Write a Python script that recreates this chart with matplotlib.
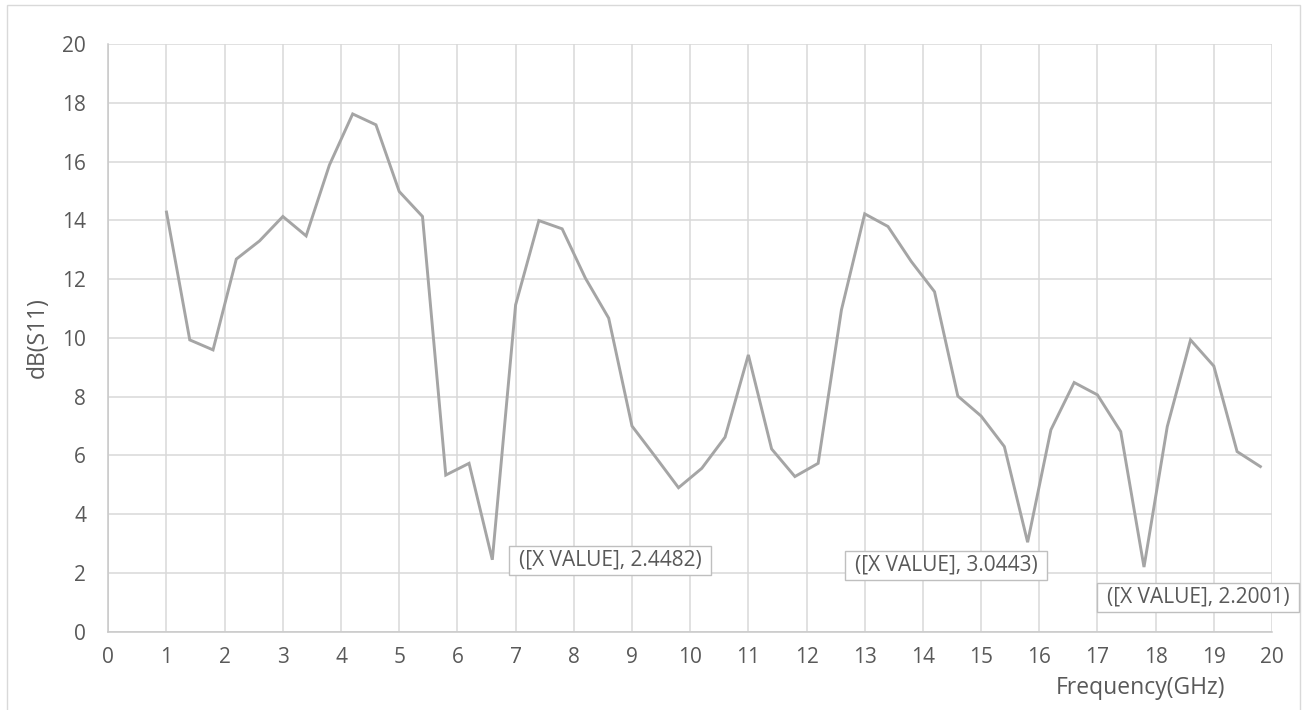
import matplotlib
matplotlib.use("Agg")
import matplotlib.pyplot as plt
from matplotlib.patches import Rectangle
from matplotlib.transforms import IdentityTransform

# Return loss sweep, 1 - 19.8 GHz in 0.4 GHz steps
freq_ghz = [1.0, 1.4, 1.8, 2.2, 2.6, 3.0, 3.4, 3.8, 4.2, 4.6,
            5.0, 5.4, 5.8, 6.2, 6.6, 7.0, 7.4, 7.8, 8.2, 8.6,
            9.0, 9.4, 9.8, 10.2, 10.6, 11.0, 11.4, 11.8, 12.2, 12.6,
            13.0, 13.4, 13.8, 14.2, 14.6, 15.0, 15.4, 15.8, 16.2, 16.6,
            17.0, 17.4, 17.8, 18.2, 18.6, 19.0, 19.4, 19.8]
db_s11 = [14.28, 9.93, 9.59, 12.68, 13.30, 14.13, 13.47, 15.88, 17.62, 17.25,
          14.98, 14.13, 5.33, 5.73, 2.4482, 11.12, 13.99, 13.71, 12.03, 10.67,
          7.00, 5.96, 4.90, 5.56, 6.62, 9.42, 6.22, 5.28, 5.73, 10.95,
          14.22, 13.79, 12.60, 11.57, 8.02, 7.34, 6.30, 3.0443, 6.87, 8.48,
          8.06, 6.81, 2.2001, 6.98, 9.93, 9.04, 6.13, 5.62]

# Minima that get a callout
callout_idx = [14, 37, 42]

x_ticks = list(range(0, 21))
y_ticks = list(range(0, 21, 2))

W, H = 1305, 710
text_color = "#595959"
grid_color = "#D9D9D9"
line_color = "#A5A5A5"
font = ["Open Sans", "DejaVu Sans"]

fig = plt.figure(figsize=(W / 100, H / 100), dpi=100)
ax = fig.add_axes([108.3 / W, 1 - 631.7 / H, (1272 - 108.3) / W, (631.7 - 44) / H])

# Outer chart border
fig.patches.append(Rectangle((7 / W, -0.01), (1300 - 7) / W, 1 - 5 / H + 0.01,
                             transform=fig.transFigure, fill=False,
                             edgecolor="#D9D9D9", linewidth=1.0))

ax.plot(freq_ghz, db_s11, color=line_color, linewidth=2.1, solid_joinstyle="miter", zorder=3)

ax.set_xlim(0, 20)
ax.set_ylim(0, 20)
ax.set_xticks(x_ticks)
ax.set_yticks(y_ticks)
ax.grid(True, color=grid_color, linewidth=1.1)
ax.set_axisbelow(True)
for side in ["top", "right"]:
    ax.spines[side].set_visible(False)
for side in ["left", "bottom"]:
    ax.spines[side].set_color("#C8C8C8")
    ax.spines[side].set_linewidth(1.1)
ax.tick_params(length=0, colors=text_color, labelsize=15)
ax.tick_params(axis="x", pad=11)
ax.tick_params(axis="y", pad=16)
for lab in ax.get_xticklabels() + ax.get_yticklabels():
    lab.set_fontfamily(font)

ax.set_ylabel("dB(S11)", color=text_color, fontsize=16.5, family=font, labelpad=9)
fig.text(1140 / W, 1 - 688 / H, "Frequency(GHz)", color=text_color,
         fontsize=16.5, family=font, ha="center", va="center")

# Callout labels for the three deepest minima, boxed
callout_centers_px = [(610, 560), (946, 565.5), (1198, 597.5)]
renderer = fig.canvas.get_renderer()
for i, (cx, cy) in zip(callout_idx, callout_centers_px):
    t = fig.text(cx / W, 1 - cy / H, f"([X VALUE], {db_s11[i]:.4f})",
                 color=text_color, fontsize=15, family=font,
                 ha="center", va="center", zorder=6)
    bb = t.get_window_extent(renderer)
    pad_x, pad_y = 10, 4
    fig.patches.append(Rectangle((bb.x0 - pad_x, bb.y0 - pad_y),
                                 bb.width + 2 * pad_x, bb.height + 2 * pad_y,
                                 transform=IdentityTransform(), facecolor="white",
                                 edgecolor="#BFBFBF", linewidth=1.0, zorder=5))

fig.savefig("out.png", dpi=100, facecolor="white")
